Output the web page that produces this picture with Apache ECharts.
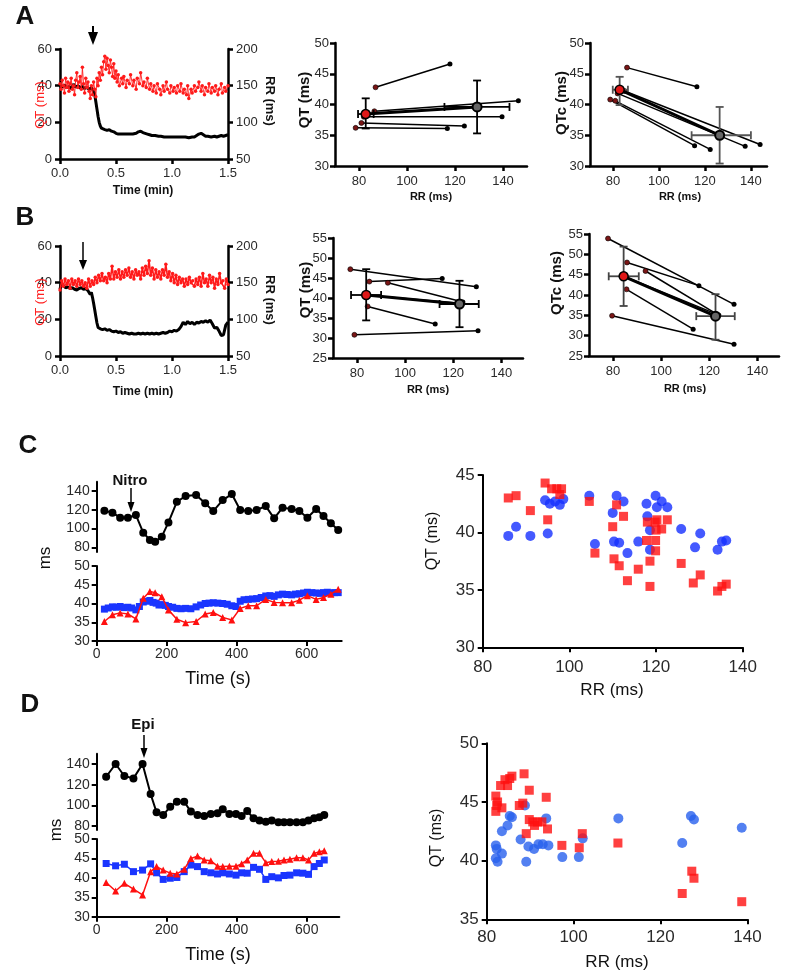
<!DOCTYPE html>
<html><head><meta charset="utf-8">
<script src="https://cdn.jsdelivr.net/npm/echarts@6/dist/echarts.min.js"></script>
<style>html,body{margin:0;padding:0;background:#fff}#c{width:787px;height:977px}</style>
</head><body><div id="c"></div>
<script>
// ================= DATA =================
// Panel A left: time (min) vs QT (ms, red, left axis) and RR (ms, black, right axis)
const aQTtrace = [[0.00,41],[0.01,38],[0.02,43],[0.03,40],[0.04,36],[0.05,44],[0.06,39],[0.07,42],[0.08,37],[0.09,41],[0.10,44],[0.11,38],[0.12,40],[0.13,35],[0.14,43],[0.15,47],[0.16,39],[0.17,42],[0.18,45],[0.19,38],[0.20,50],[0.21,41],[0.22,36],[0.23,44],[0.24,39],[0.25,42],[0.26,37],[0.27,33],[0.28,40],[0.29,35],[0.30,42],[0.31,38],
 [0.32,34],[0.33,44],[0.34,40],[0.35,47],[0.36,43],[0.37,50],[0.38,46],[0.39,53],[0.40,56],[0.41,49],[0.42,55],[0.43,51],[0.44,47],[0.45,54],[0.46,50],[0.47,45],[0.48,52],[0.49,44],[0.50,48],[0.51,42],[0.52,46],
 [0.53,40],[0.55,44],[0.56,41],[0.57,45],[0.59,39],[0.60,43],[0.62,41],[0.63,46],[0.65,40],[0.66,43],[0.68,38],[0.69,44],[0.71,41],[0.72,47],[0.74,40],[0.75,42],[0.77,39],[0.78,44],[0.80,38],
 [0.81,41],[0.83,37],[0.84,40],[0.86,36],[0.87,41],[0.89,38],[0.90,35],[0.92,40],[0.93,37],[0.95,42],[0.96,38],[0.98,36],[0.99,40],
 [1.01,37],[1.02,39],[1.04,36],[1.05,40],[1.07,37],[1.08,41],[1.10,36],[1.11,38],[1.13,35],[1.14,40],[1.15,33],[1.17,38],[1.18,36],[1.20,40],[1.21,37],[1.23,39],[1.24,42],[1.26,37],[1.27,40],[1.29,35],[1.30,39],[1.32,37],[1.33,41],[1.35,36],[1.36,39],[1.38,37],[1.39,40],[1.41,35],[1.42,38],[1.44,41],[1.45,36],[1.47,39],[1.48,37],[1.50,40]];
const aRRtrace = [[0.00,150],[0.02,148],[0.04,151],[0.06,147],[0.08,149],[0.10,146],[0.12,152],[0.14,148],[0.16,150],[0.18,147],[0.20,149],[0.22,146],[0.24,148],[0.26,145],[0.28,147],[0.30,143],[0.31,138],[0.32,128],[0.33,118],[0.34,108],[0.35,100],[0.36,95],[0.37,92],[0.38,91],[0.40,90],[0.42,89],[0.44,90],[0.46,88],[0.48,87],[0.50,85],[0.52,84],[0.55,84],[0.58,84],[0.60,84],[0.62,84],[0.65,84],[0.68,85],[0.70,87],[0.72,88],[0.74,86],[0.76,85],[0.78,84],[0.80,83],[0.82,82],[0.85,82],[0.88,81],[0.90,81],[0.93,80],[0.96,80],[1.00,80],[1.03,80],[1.06,80],[1.09,80],[1.12,80],[1.15,79],[1.18,80],[1.20,80],[1.22,82],[1.24,84],[1.26,85],[1.28,83],[1.30,81],[1.32,81],[1.35,80],[1.38,81],[1.40,80],[1.42,81],[1.44,82],[1.46,81],[1.48,82],[1.50,83]];

// Panel B left
const bQTtrace = [[0.00,36],[0.015,41],[0.03,38],[0.045,42],[0.06,39],[0.075,41],[0.09,37],[0.105,42],[0.12,39],[0.135,41],[0.15,38],[0.165,42],[0.18,39],[0.195,41],[0.21,38],[0.225,40],[0.24,37],[0.255,42],[0.27,38],[0.285,41],[0.30,39],[0.315,43],[0.33,40],[0.345,44],[0.36,41],[0.375,45],[0.39,41],[0.405,43],[0.42,40],[0.435,45],[0.45,42],[0.465,49],[0.48,42],[0.495,46],[0.51,43],[0.525,47],[0.54,42],[0.555,46],[0.57,43],[0.585,47],[0.60,44],[0.615,48],[0.63,43],[0.645,46],[0.66,42],[0.675,47],[0.69,44],[0.705,46],[0.72,42],[0.735,48],[0.75,44],[0.765,49],[0.78,45],[0.795,52],[0.81,44],[0.825,48],[0.84,42],[0.855,47],[0.87,43],[0.885,46],[0.90,42],[0.915,47],[0.93,44],[0.945,50],[0.96,43],[0.975,46],[0.99,41],[1.005,45],[1.02,40],[1.035,44],[1.05,39],[1.065,43],[1.08,40],[1.095,42],[1.11,38],[1.125,42],[1.14,39],[1.155,43],[1.17,40],[1.185,41],[1.20,38],[1.215,42],[1.23,39],[1.245,43],[1.26,38],[1.275,45],[1.29,40],[1.305,42],[1.32,38],[1.335,44],[1.35,40],[1.365,43],[1.38,37],[1.395,42],[1.41,39],[1.425,45],[1.44,40],[1.455,41],[1.47,37],[1.485,42],[1.50,39]];
const bRRtrace = [[0.00,141],[0.01,148],[0.03,146],[0.05,143],[0.07,144],[0.09,142],[0.11,143],[0.13,141],[0.15,140],[0.17,142],[0.19,143],[0.21,141],[0.23,142],[0.25,139],[0.27,134],[0.28,137],[0.29,130],[0.30,122],[0.31,113],[0.32,104],[0.33,95],[0.34,89],[0.36,87],[0.38,86],[0.40,87],[0.42,85],[0.44,86],[0.46,84],[0.48,83],[0.50,84],[0.52,82],[0.54,83],[0.56,81],[0.58,82],[0.60,81],[0.62,80],[0.64,81],[0.66,80],[0.68,80],[0.70,81],[0.72,80],[0.74,81],[0.76,80],[0.78,81],[0.80,80],[0.82,81],[0.84,80],[0.86,81],[0.88,80],[0.90,81],[0.92,82],[0.94,81],[0.96,82],[0.98,84],[1.00,83],[1.02,85],[1.04,84],[1.06,86],[1.08,90],[1.10,96],[1.12,93],[1.14,97],[1.16,94],[1.18,96],[1.20,93],[1.22,96],[1.24,95],[1.26,97],[1.28,96],[1.30,98],[1.32,96],[1.34,99],[1.36,94],[1.38,88],[1.40,89],[1.42,84],[1.44,78],[1.46,79],[1.48,92],[1.50,96]];

// Panel A middle: QT vs RR, baseline -> drug per animal
const aQT_rrBase = [86.9, 78.6, 81.0, 82.0, 86.4];
const aQT_qtBase = [42.8, 36.2, 37.0, 38.0, 38.9];
const aQT_rrDrug = [117.9, 116.8, 123.9, 139.6, 146.4];
const aQT_qtDrug = [46.6, 36.1, 36.5, 38.0, 40.6];
// mean: [rr, qt, rrLow, rrHigh, qtLow, qtHigh]
const aQT_mean = [[82.8, 38.45, 79.6, 86.1, 36.1, 41.0], [129.2, 39.6, 115.6, 142.7, 35.3, 43.9]];

// Panel A right: QTc vs RR
const aQTc_rrBase = [86.1, 78.8, 81.0, 82.0, 85.0];
const aQTc_qtcBase = [46.0, 40.8, 40.6, 41.8, 42.2];
const aQTc_rrDrug = [116.5, 115.5, 122.3, 137.5, 144.0];
const aQTc_qtcDrug = [42.9, 33.3, 32.7, 33.2, 33.5];
const aQTc_mean = [[82.9, 42.4, 79.9, 86.5, 39.9, 44.5], [126.4, 35.0, 114.2, 140.0, 30.4, 39.6]];

// Panel B middle
const bQT_rrBase = [77.2, 85.1, 92.8, 84.4, 78.9, 84.4];
const bQT_qtBase = [47.2, 44.1, 43.8, 37.9, 30.8, 40.7];
const bQT_rrDrug = [129.6, 115.4, 124.0, 112.5, 130.3, 123.8];
const bQT_qtDrug = [42.8, 44.9, 39.0, 33.5, 31.8, 38.6];
const bQT_mean = [[83.8, 40.75, 77.5, 90.0, 34.4, 47.2], [122.6, 38.5, 114.3, 130.6, 32.7, 44.3]];

// Panel B right
const bQTc_rrBase = [77.9, 85.8, 93.5, 85.6, 79.6, 84.4];
const bQTc_qtcBase = [53.9, 48.0, 45.9, 41.4, 34.9, 44.6];
const bQTc_rrDrug = [130.3, 115.7, 124.0, 113.3, 130.3, 123.0];
const bQTc_qtcDrug = [37.7, 42.3, 35.0, 31.6, 27.9, 35.3];
const bQTc_mean = [[84.4, 44.6, 78.2, 90.7, 37.3, 51.9], [122.6, 34.8, 114.6, 130.6, 29.0, 40.2]];

// Panel C left: time (s)
const cTime = [22,45,67,89,112,133,152,167,186,205,229,254,284,310,333,360,386,410,433,457,483,507,531,557,579,602,627,648,669,690];
const cRR = [119,117,111.6,111.6,114.4,95.6,87.8,86,91.4,106.6,128.6,134.7,135.7,126.9,118.7,130.4,136.8,119.8,118.7,119.8,124,110.9,122.3,120.8,118.7,111.6,120.8,113.4,105.6,98.5];
const cRed = [35.2,37,37.5,37.2,35.9,41.4,43.2,42.9,41.8,38.3,35.8,34.9,35.2,37.2,37.6,36.3,35.6,38.7,39.4,39.4,41.1,40.3,40.2,40.2,40.9,42.1,41.1,41.6,42.5,43.8];
const cBlueTime = [22,33,45,56,67,78,89,100,112,122,133,143,152,161,170,178,186,196,205,217,229,241,254,269,284,297,310,321,333,346,360,373,386,398,410,421,433,445,457,470,483,495,507,519,531,544,557,568,579,591,602,615,627,638,648,659,669,680,690];
const cBlue = [38.5,38.8,39.1,39.0,39.2,38.9,39.0,38.8,38.3,39.2,40.4,40.6,40.8,40.3,40.1,39.6,39.7,39.5,39.2,39.0,38.7,38.6,38.7,38.6,39.1,39.6,40.0,40.1,40.2,40.1,40.0,39.8,39.4,39.2,40.6,41.0,41.1,41.2,41.3,41.6,42.0,42.1,41.9,42.3,42.5,42.4,42.3,42.5,42.6,42.8,43.0,42.9,42.8,42.7,42.9,43.0,42.8,42.9,42.9];

// Panel C right: QT vs RR scatter
const cScBlueRR = [85.9,87.7,91.0,95.0,94.4,95.5,96.7,97.8,98.6,104.6,105.9,110.0,110.3,110.9,111.5,112.5,113.4,115.9,117.8,118.0,118.6,118.6,119.9,120.2,121.3,122.6,125.8,129.0,130.2,134.2,135.2,136.2];
const cScBlueQT = [39.7,40.5,39.7,39.9,42.8,42.5,42.7,42.4,42.9,43.2,39.0,41.7,39.2,43.2,39.1,42.7,38.2,39.2,42.5,41.4,40.2,38.5,43.2,42.2,42.7,42.2,40.3,38.7,39.9,38.5,39.2,39.3];
const cScRedRR = [85.9,87.7,91.0,94.4,95.0,95.9,97.1,97.8,98.2,104.6,105.9,110.0,110.3,110.9,111.5,112.5,113.4,115.9,117.8,118.0,118.6,118.6,119.8,119.9,119.9,120.2,121.3,122.6,125.8,128.6,130.2,134.2,135.2,136.2,120.0];
const cScRedQT = [43.0,43.2,41.9,44.3,41.1,43.8,43.8,43.3,43.8,42.7,38.2,40.5,37.7,42.4,37.1,41.4,35.8,36.8,39.3,40.9,37.5,35.3,40.9,39.3,38.4,41.1,40.3,41.1,37.3,35.6,36.3,34.9,35.3,35.5,40.2];

// Panel D left
const dTime = [27,54,79,105,131,154,171,190,210,229,250,269,288,307,326,345,360,379,398,414,430,448,465,483,500,519,535,552,571,589,605,621,636,650];
const dRR = [127.7,140,128.4,126.1,140,111,93.2,90.6,98.7,103.5,103.5,93.9,90.6,89.7,91.6,92.3,96.1,91.6,91.6,89.7,94.5,87.4,85.2,84.2,85.2,83.5,83.5,83.5,83.5,83.5,85.2,87.4,88.4,90.6];
const dBlue = [43.7,43.1,43.5,41.6,42.0,43.6,41.3,39.6,39.9,40.1,41.6,43.3,42.9,41.6,41.3,41.0,41.3,41.0,40.7,41.3,41.2,42.7,42.2,39.6,40.3,40.0,40.6,40.7,41.3,41.2,40.9,42.9,43.7,44.6];
const dRed = [38.8,36.6,38.6,37.1,35.6,41.6,42.9,42.0,41.2,41.0,42.2,45.0,45.6,44.6,44.4,43.0,42.9,43.0,43.0,43.6,44.6,46.3,46.3,43.9,44.2,44.3,44.6,44.8,45.2,45.2,44.6,46.3,46.7,47.0];

// Panel D right
const dScRedRR = [82.1,82.3,82.1,83.5,82.5,83.2,84.2,84.8,85.3,85.8,87.5,88.3,88.6,89.1,89.8,89.8,90.6,91.0,91.7,92.7,93.7,94.0,97.3,101.3,102.0,110.2,125.0,127.2,127.7,138.7,140.1];
const dScRedQT = [45.5,44.7,44.2,44.5,45.0,46.4,46.9,46.4,47.0,47.2,44.7,44.9,47.4,42.3,46.0,43.5,43.3,43.0,43.3,43.3,45.4,42.7,41.3,41.1,42.3,41.5,37.2,39.1,38.5,36.5,35.7];
const dScBlueRR = [82.1,82.3,82.1,82.5,83.5,83.5,84.8,85.3,85.8,87.8,88.8,89.1,89.6,90.9,91.9,92.9,93.7,94.2,97.4,101.2,102.1,110.3,125.0,127.0,127.7,138.7,140.1];
const dScBlueQT = [41.3,41.0,40.2,39.9,40.6,42.5,43.0,43.8,43.7,41.8,44.7,39.9,41.2,41.0,41.4,41.4,43.6,41.3,40.3,40.3,41.9,43.6,41.5,43.8,43.5,42.8,42.0];

// ================= BUILD =================
const F = '"Liberation Sans", Arial, Helvetica, sans-serif';
const grid = [], xAxis = [], yAxis = [], series = [], graphic = [];
const zip = (a, b) => a.map((v, i) => [v, b[i]]);

function addGrid(left, top, width, height) {
  grid.push({left, top, width, height, containLabel: false});
  return grid.length - 1;
}
function axis(gi, o) {
  const lw = o.lw || 2;
  const a = {
    type: 'value', gridIndex: gi, min: o.min, max: o.max, position: o.position,
    axisLine: {show: o.line !== false, onZero: false, lineStyle: {color: '#000', width: lw}},
    axisTick: {show: o.tick !== false, inside: false, length: o.tl || 5, lineStyle: {color: '#000', width: lw}},
    axisLabel: {show: o.label !== false, fontSize: o.fs || 13, color: '#2a2a2a', fontFamily: F, margin: o.margin || 7},
    splitLine: {show: false}
  };
  if (o.ticks) { a.axisTick.customValues = o.ticks; a.axisLabel.customValues = o.ticks; }
  if (o.fmt) a.axisLabel.formatter = o.fmt;
  return a;
}
function addX(gi, o) { xAxis.push(axis(gi, o)); return xAxis.length - 1; }
function addY(gi, o) { yAxis.push(axis(gi, o)); return yAxis.length - 1; }

// ---- trace panels (A, B left)
function tracePanel(top, qt, rr, qtLine) {
  const g = addGrid(60, top, 168, 110);
  const xi = addX(g, {min: 0, max: 1.5, ticks: [0, 0.5, 1.0, 1.5], fmt: v => v.toFixed(1), lw: 2.5, fs: 13, margin: 8});
  const yl = addY(g, {min: 0, max: 60, ticks: [0, 20, 40, 60], lw: 2.5, fs: 13, margin: 8, position: 'left'});
  const yr = addY(g, {min: 50, max: 200, ticks: [50, 100, 150, 200], lw: 2.5, fs: 13, margin: 8, position: 'right'});
  series.push({type: 'line', xAxisIndex: xi, yAxisIndex: yr, data: rr, showSymbol: false, symbol: 'none',
    lineStyle: {color: '#000', width: 3}, z: 2});
  series.push({type: 'line', xAxisIndex: xi, yAxisIndex: yl, data: qt, symbol: 'circle', symbolSize: 3.5,
    itemStyle: {color: '#ff1a1a'}, lineStyle: {color: '#ff1a1a', width: qtLine}, z: 3});
}
tracePanel(49, aQTtrace, aRRtrace, 0.9);
tracePanel(246, bQTtrace, bRRtrace, 1.6);

// ---- paired panels
function errRender(color) {
  return function (params, api) {
    const x = api.value(0), y = api.value(1);
    const c = api.coord([x, y]);
    const xl = api.coord([api.value(2), y])[0], xh = api.coord([api.value(3), y])[0];
    const yl = api.coord([x, api.value(4)])[1], yh = api.coord([x, api.value(5)])[1];
    const cap = 4, st = {stroke: color, lineWidth: 1.8};
    const L = (x1, y1, x2, y2) => ({type: 'line', shape: {x1, y1, x2, y2}, style: st});
    return {type: 'group', children: [
      L(xl, c[1], xh, c[1]), L(xl, c[1] - cap, xl, c[1] + cap), L(xh, c[1] - cap, xh, c[1] + cap),
      L(c[0], yl, c[0], yh), L(c[0] - cap, yl, c[0] + cap, yl), L(c[0] - cap, yh, c[0] + cap, yh)
    ]};
  };
}
function pairedPanel(gr, xr, yr, rrB, qB, rrD, qD, mean, errColor) {
  const g = addGrid(gr[0], gr[1], gr[2], gr[3]);
  const xi = addX(g, {min: xr[0], max: xr[1], ticks: [80, 100, 120, 140], lw: 2.5, fs: 13, margin: 9});
  const ticksY = [];
  for (let v = yr[0]; v <= yr[1]; v += 5) ticksY.push(v);
  const yi = addY(g, {min: yr[0], max: yr[1], ticks: ticksY, lw: 2.5, fs: 13, margin: 6});
  rrB.forEach((v, i) => {
    series.push({type: 'line', xAxisIndex: xi, yAxisIndex: yi, symbol: 'circle', symbolSize: 5, z: 2,
      lineStyle: {color: '#000', width: 1.5},
      data: [{value: [rrB[i], qB[i]], itemStyle: {color: '#7a1616', borderColor: '#000', borderWidth: 0.6}},
             {value: [rrD[i], qD[i]], itemStyle: {color: '#000'}}]});
  });
  series.push({type: 'custom', xAxisIndex: xi, yAxisIndex: yi, renderItem: errRender(errColor || '#000'),
    data: mean, encode: {x: 0, y: 1}, z: 3});
  series.push({type: 'line', xAxisIndex: xi, yAxisIndex: yi, symbol: 'circle', symbolSize: 9, z: 4,
    lineStyle: {color: '#000', width: 3},
    data: [{value: [mean[0][0], mean[0][1]], itemStyle: {color: '#e01818', borderColor: '#000', borderWidth: 1.5}},
           {value: [mean[1][0], mean[1][1]], itemStyle: {color: '#666', borderColor: '#000', borderWidth: 2}}]});
}
pairedPanel([335, 43, 192, 123], [70, 150], [30, 50], aQT_rrBase, aQT_qtBase, aQT_rrDrug, aQT_qtDrug, aQT_mean);
pairedPanel([590, 43, 177, 123], [70, 147], [30, 50], aQTc_rrBase, aQTc_qtcBase, aQTc_rrDrug, aQTc_qtcDrug, aQTc_mean, '#555');
pairedPanel([333, 238, 190, 120], [70, 149], [25, 55], bQT_rrBase, bQT_qtBase, bQT_rrDrug, bQT_qtDrug, bQT_mean);
pairedPanel([589, 234, 190, 122], [70, 149], [25, 55], bQTc_rrBase, bQTc_qtcBase, bQTc_rrDrug, bQTc_qtcDrug, bQTc_mean, '#444');

// ---- time course panels (C, D left)
function coursePanel(top1, h1, yTop, top2, h2, xmax, w, tRR, rr, tBlue, blue, tRed, red) {
  const g1 = addGrid(96.7, top1, w, h1);
  const x1 = addX(g1, {min: 0, max: xmax, line: false, tick: false, label: false});
  const y1 = addY(g1, {min: yTop, max: 150, ticks: [80, 100, 120, 140], lw: 2, fs: 14, margin: 7});
  series.push({type: 'line', xAxisIndex: x1, yAxisIndex: y1, data: zip(tRR, rr), symbol: 'circle', symbolSize: 8,
    itemStyle: {color: '#000'}, lineStyle: {color: '#000', width: 2}});
  const g2 = addGrid(96.7, top2, w, h2);
  const x2 = addX(g2, {min: 0, max: xmax, ticks: [0, 200, 400, 600], lw: 2, fs: 14, margin: 6});
  const y2 = addY(g2, {min: 30, max: 50, ticks: [30, 35, 40, 45, 50], lw: 2, fs: 14, margin: 7});
  series.push({type: 'line', xAxisIndex: x2, yAxisIndex: y2, data: zip(tBlue, blue), symbol: 'rect', symbolSize: 7,
    itemStyle: {color: '#1a35ff'}, lineStyle: {color: '#1a35ff', width: 1.5}, z: 2});
  series.push({type: 'line', xAxisIndex: x2, yAxisIndex: y2, data: zip(tRed, red), symbol: 'triangle', symbolSize: 7,
    itemStyle: {color: '#ff1010'}, lineStyle: {color: '#ff1010', width: 1.5}, z: 3});
}
coursePanel(481.7, 70.3, 75, 566, 75, 700, 245, cTime, cRR, cBlueTime, cBlue, cTime, cRed);
coursePanel(753.7, 76.4, 76, 839, 77.7, 693, 242.6, dTime, dRR, dTime, dBlue, dTime, dRed);

// ---- scatter panels (C, D right)
function scatterPanel(gr, yr, bRR, bQT, rRR, rQT, fs, mx, blueColor) {
  const g = addGrid(gr[0], gr[1], gr[2], gr[3]);
  const xi = addX(g, {min: 80, max: 140, ticks: [80, 100, 120, 140], lw: 2, fs: fs, margin: mx});
  const ty = []; for (let v = yr[0]; v <= yr[1]; v += 5) ty.push(v);
  const yi = addY(g, {min: yr[0], max: yr[1], ticks: ty, lw: 2, fs: fs, margin: 8});
  series.push({type: 'scatter', xAxisIndex: xi, yAxisIndex: yi, data: zip(bRR, bQT), symbol: 'circle', symbolSize: 10,
    itemStyle: {color: blueColor}, z: 2});
  series.push({type: 'scatter', xAxisIndex: xi, yAxisIndex: yi, data: zip(rRR, rQT), symbol: 'rect', symbolSize: 9,
    itemStyle: {color: '#ff1010'}, z: 3});
}
scatterPanel([482.7, 475, 260, 172.3], [30, 45], cScBlueRR, cScBlueQT, cScRedRR, cScRedQT, 17, 12, '#1530ff');
scatterPanel([486.7, 743.3, 260.7, 176], [35, 50], dScBlueRR, dScBlueQT, dScRedRR, dScRedQT, 17, 10, '#2860ee');

// ---- texts and annotations
function txt(t, x, y, fs, o) {
  o = o || {};
  graphic.push({type: 'text', x: x, y: y, rotation: o.rot || 0, z: 100,
    style: {text: t, fontSize: fs, fontWeight: o.bold ? 'bold' : 'normal', fontFamily: F,
      fill: o.color || '#111', align: 'center', verticalAlign: 'middle'}});
}
function arrow(x, y1, yHead, y2, hw, lw) {
  graphic.push({type: 'line', z: 100, shape: {x1: x, y1: y1, x2: x, y2: yHead + 1}, style: {stroke: '#000', lineWidth: lw}});
  graphic.push({type: 'polygon', z: 100, shape: {points: [[x - hw, yHead], [x + hw, yHead], [x, y2]]}, style: {fill: '#000'}});
}
const R = Math.PI / 2;
txt('A', 25, 17, 26, {bold: true});
txt('B', 25, 218, 26, {bold: true});
txt('C', 28, 446, 26, {bold: true});
txt('D', 30, 705, 26, {bold: true});
// A/B left
txt('QT (ms)', 40, 105, 13, {rot: R, color: '#ff2020'});
txt('Time (min)', 143, 191, 12, {bold: true});
txt('RR (ms)', 270, 101, 13, {rot: -R, bold: true});
txt('QT (ms)', 40, 302, 13, {rot: R, color: '#ff2020'});
txt('Time (min)', 143, 392, 12, {bold: true});
txt('RR (ms)', 270, 300, 13, {rot: -R, bold: true});
arrow(93, 26, 32, 45, 5, 2);
arrow(83, 242, 260, 270, 4, 1.5);
// paired panels
txt('QT (ms)', 305, 100, 15, {rot: R, bold: true});
txt('RR (ms)', 431, 197, 11, {bold: true});
txt('QTc (ms)', 562, 103, 15, {rot: R, bold: true});
txt('RR (ms)', 680, 197, 11, {bold: true});
txt('QT (ms)', 306, 290, 15, {rot: R, bold: true});
txt('RR (ms)', 428, 390, 11, {bold: true});
txt('QTc (ms)', 557, 283, 15, {rot: R, bold: true});
txt('RR (ms)', 685, 389, 11, {bold: true});
// C / D left
txt('ms', 45, 558, 17, {rot: R});
txt('Time (s)', 218, 679, 18);
txt('Nitro', 130, 481, 15, {bold: true});
arrow(131, 488, 502, 512, 3.5, 1.5);
txt('ms', 56, 830, 17, {rot: R});
txt('Time (s)', 218, 955, 18);
txt('Epi', 143, 725, 15, {bold: true});
arrow(144, 735, 748, 758, 3.5, 1.5);
// C / D right
txt('QT (ms)', 433, 541, 16, {rot: R});
txt('RR (ms)', 612, 690, 17);
txt('QT (ms)', 437, 838, 16, {rot: R});
txt('RR (ms)', 617, 962, 17);

const chart = echarts.init(document.getElementById('c'), null, {renderer: 'canvas'});
chart.setOption({
  backgroundColor: '#fff', animation: false,
  grid: grid, xAxis: xAxis, yAxis: yAxis, series: series, graphic: graphic
});
</script></body></html>
